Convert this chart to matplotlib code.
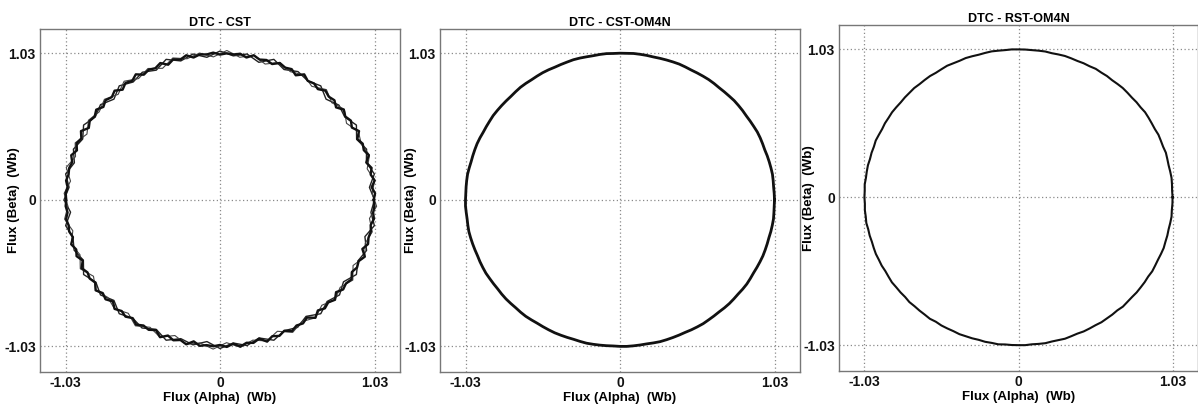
import numpy as np
import matplotlib
matplotlib.use("Agg")
import matplotlib.pyplot as plt

plt.rcParams['font.family'] = ['Liberation Sans', 'DejaVu Sans']
plt.rcParams['font.weight'] = 'bold'

titles = ["DTC - CST", "DTC - CST-OM4N", "DTC - RST-OM4N"]
tick_values = [-1.03, 0, 1.03]
tick_labels = ["-1.03", "0", "1.03"]
xlabel = "Flux (Alpha)  (Wb)"
ylabel = "Flux (Beta)  (Wb)"

# sampling angles (degrees) of the flux trajectory
angle_a = [0, 5, 10, 15, 20, 25, 30, 35, 40, 45, 50, 55, 60, 65, 70, 75, 80, 85,
           90, 95, 100, 105, 110, 115, 120, 125, 130, 135, 140, 145, 150, 155, 160, 165, 170, 175,
           180, 185, 190, 195, 200, 205, 210, 215, 220, 225, 230, 235, 240, 245, 250, 255, 260, 265,
           270, 275, 280, 285, 290, 295, 300, 305, 310, 315, 320, 325, 330, 335, 340, 345, 350, 355, 360]
angle_b = [2.5, 7.5, 12.5, 17.5, 22.5, 27.5, 32.5, 37.5, 42.5, 47.5, 52.5, 57.5, 62.5, 67.5, 72.5, 77.5, 82.5, 87.5,
           92.5, 97.5, 102.5, 107.5, 112.5, 117.5, 122.5, 127.5, 132.5, 137.5, 142.5, 147.5, 152.5, 157.5, 162.5, 167.5, 172.5, 177.5,
           182.5, 187.5, 192.5, 197.5, 202.5, 207.5, 212.5, 217.5, 222.5, 227.5, 232.5, 237.5, 242.5, 247.5, 252.5, 257.5, 262.5, 267.5,
           272.5, 277.5, 282.5, 287.5, 292.5, 297.5, 302.5, 307.5, 312.5, 317.5, 322.5, 327.5, 332.5, 337.5, 342.5, 347.5, 352.5, 357.5, 362.5]
angle_c = [0, 2.5, 5, 7.5, 10, 12.5, 15, 17.5, 20, 22.5, 25, 27.5, 30, 32.5, 35, 37.5, 40, 42.5,
           45, 47.5, 50, 52.5, 55, 57.5, 60, 62.5, 65, 67.5, 70, 72.5, 75, 77.5, 80, 82.5, 85, 87.5,
           90, 92.5, 95, 97.5, 100, 102.5, 105, 107.5, 110, 112.5, 115, 117.5, 120, 122.5, 125, 127.5, 130, 132.5,
           135, 137.5, 140, 142.5, 145, 147.5, 150, 152.5, 155, 157.5, 160, 162.5, 165, 167.5, 170, 172.5, 175, 177.5,
           180, 182.5, 185, 187.5, 190, 192.5, 195, 197.5, 200, 202.5, 205, 207.5, 210, 212.5, 215, 217.5, 220, 222.5,
           225, 227.5, 230, 232.5, 235, 237.5, 240, 242.5, 245, 247.5, 250, 252.5, 255, 257.5, 260, 262.5, 265, 267.5,
           270, 272.5, 275, 277.5, 280, 282.5, 285, 287.5, 290, 292.5, 295, 297.5, 300, 302.5, 305, 307.5, 310, 312.5,
           315, 317.5, 320, 322.5, 325, 327.5, 330, 332.5, 335, 337.5, 340, 342.5, 345, 347.5, 350, 352.5, 355, 357.5,
           360]

# DTC - CST : flux magnitude (Wb), three laps with strong ripple
cst_r_a = [1.03, 1.00, 1.045, 1.01, 1.04, 1.005, 1.05, 1.015, 1.035, 1.00, 1.045, 1.02, 1.04, 1.01, 1.05, 1.00, 1.04, 1.015,
           1.045, 1.005, 1.04, 1.01, 1.05, 1.005, 1.035, 1.01, 1.045, 1.00, 1.04, 1.015, 1.05, 1.01, 1.04, 1.005, 1.045, 1.01,
           1.04, 1.00, 1.045, 1.015, 1.035, 1.005, 1.05, 1.01, 1.04, 1.00, 1.045, 1.015, 1.04, 1.005, 1.05, 1.01, 1.035, 1.00,
           1.045, 1.01, 1.04, 1.005, 1.05, 1.015, 1.035, 1.00, 1.045, 1.01, 1.04, 1.005, 1.05, 1.015, 1.04, 1.00, 1.045, 1.01, 1.03]
cst_r_b = [1.015, 1.04, 1.005, 1.045, 1.02, 1.04, 1.00, 1.045, 1.01, 1.05, 1.005, 1.04, 1.015, 1.045, 1.00, 1.04, 1.01, 1.05,
           1.005, 1.04, 1.015, 1.045, 1.00, 1.04, 1.01, 1.05, 1.005, 1.045, 1.015, 1.04, 1.00, 1.045, 1.01, 1.05, 1.005, 1.04,
           1.015, 1.045, 1.005, 1.04, 1.01, 1.05, 1.00, 1.045, 1.015, 1.04, 1.005, 1.05, 1.01, 1.045, 1.00, 1.04, 1.015, 1.05,
           1.005, 1.045, 1.01, 1.04, 1.00, 1.05, 1.015, 1.045, 1.005, 1.04, 1.01, 1.05, 1.00, 1.045, 1.015, 1.04, 1.005, 1.045, 1.015]
cst_r_c = [1.025, 1.035, 1.015, 1.04, 1.02, 1.035, 1.01, 1.04, 1.02, 1.03, 1.01, 1.045, 1.015, 1.035, 1.02, 1.04, 1.01, 1.035,
           1.025, 1.04, 1.015, 1.03, 1.02, 1.045, 1.01, 1.035, 1.025, 1.04, 1.015, 1.03, 1.02, 1.04, 1.015, 1.035, 1.025, 1.03,
           1.02, 1.035, 1.025, 1.03, 1.015, 1.04, 1.02, 1.035, 1.01, 1.04, 1.02, 1.03, 1.015, 1.045, 1.02, 1.035, 1.01, 1.04,
           1.02, 1.035, 1.015, 1.04, 1.02, 1.03, 1.01, 1.045, 1.02, 1.035, 1.015, 1.04, 1.02, 1.03, 1.025, 1.035, 1.02, 1.03,
           1.025, 1.03, 1.02, 1.035, 1.025, 1.03, 1.015, 1.04, 1.02, 1.035, 1.01, 1.04, 1.02, 1.03, 1.015, 1.045, 1.02, 1.035,
           1.01, 1.04, 1.02, 1.035, 1.015, 1.04, 1.02, 1.03, 1.01, 1.045, 1.015, 1.035, 1.02, 1.04, 1.01, 1.035, 1.025, 1.03,
           1.02, 1.035, 1.015, 1.04, 1.02, 1.03, 1.01, 1.045, 1.02, 1.035, 1.015, 1.04, 1.02, 1.03, 1.01, 1.045, 1.015, 1.035,
           1.02, 1.04, 1.01, 1.035, 1.025, 1.04, 1.015, 1.03, 1.02, 1.045, 1.01, 1.035, 1.025, 1.03, 1.02, 1.035, 1.025, 1.03,
           1.025]

# DTC - CST-OM4N : smooth trajectory
om4n_r = [1.03, 1.029, 1.028, 1.03, 1.032, 1.031, 1.03, 1.029, 1.027, 1.029, 1.031, 1.032, 1.03, 1.029, 1.028, 1.03, 1.031, 1.032,
          1.03, 1.029, 1.028, 1.03, 1.031, 1.03, 1.029, 1.028, 1.03, 1.032, 1.031, 1.03, 1.029, 1.028, 1.03, 1.031, 1.032, 1.03,
          1.03, 1.029, 1.031, 1.03, 1.028, 1.029, 1.031, 1.032, 1.03, 1.029, 1.028, 1.03, 1.031, 1.03, 1.029, 1.031, 1.032, 1.03,
          1.028, 1.029, 1.03, 1.031, 1.032, 1.03, 1.029, 1.028, 1.03, 1.031, 1.03, 1.029, 1.028, 1.03, 1.032, 1.031, 1.03, 1.029,
          1.03, 1.031, 1.029, 1.028, 1.03, 1.032, 1.031, 1.03, 1.029, 1.028, 1.03, 1.031, 1.032, 1.03, 1.029, 1.028, 1.03, 1.031,
          1.03, 1.029, 1.031, 1.032, 1.03, 1.028, 1.029, 1.03, 1.031, 1.03, 1.029, 1.028, 1.03, 1.032, 1.031, 1.03, 1.029, 1.028,
          1.03, 1.031, 1.03, 1.029, 1.028, 1.03, 1.032, 1.031, 1.03, 1.029, 1.028, 1.03, 1.031, 1.032, 1.03, 1.029, 1.028, 1.03,
          1.031, 1.03, 1.029, 1.031, 1.032, 1.03, 1.028, 1.029, 1.03, 1.031, 1.03, 1.029, 1.028, 1.03, 1.031, 1.032, 1.03, 1.029,
          1.03]

# DTC - RST-OM4N : smooth trajectory with small bumps
rst_r = [1.03, 1.028, 1.03, 1.032, 1.03, 1.028, 1.03, 1.033, 1.029, 1.03, 1.032, 1.028, 1.029, 1.031, 1.033, 1.029, 1.03, 1.028,
         1.03, 1.032, 1.03, 1.028, 1.031, 1.03, 1.033, 1.029, 1.03, 1.028, 1.03, 1.032, 1.03, 1.028, 1.031, 1.03, 1.029, 1.03,
         1.03, 1.031, 1.029, 1.03, 1.032, 1.03, 1.028, 1.03, 1.032, 1.029, 1.03, 1.033, 1.03, 1.028, 1.031, 1.03, 1.029, 1.032,
         1.03, 1.03, 1.028, 1.03, 1.032, 1.03, 1.031, 1.028, 1.03, 1.033, 1.029, 1.03, 1.028, 1.031, 1.03, 1.029, 1.032, 1.029,
         1.03, 1.028, 1.031, 1.03, 1.033, 1.029, 1.03, 1.028, 1.03, 1.032, 1.03, 1.031, 1.028, 1.03, 1.033, 1.03, 1.03, 1.028,
         1.032, 1.029, 1.03, 1.03, 1.033, 1.028, 1.031, 1.03, 1.029, 1.032, 1.03, 1.03, 1.028, 1.031, 1.03, 1.033, 1.029, 1.03,
         1.03, 1.031, 1.028, 1.03, 1.032, 1.029, 1.03, 1.033, 1.03, 1.028, 1.031, 1.03, 1.029, 1.032, 1.03, 1.03, 1.028, 1.033,
         1.03, 1.029, 1.031, 1.03, 1.03, 1.028, 1.032, 1.03, 1.029, 1.031, 1.033, 1.03, 1.03, 1.028, 1.03, 1.032, 1.029, 1.03,
         1.03]


def to_xy(angles, radii):
    a = np.deg2rad(np.asarray(angles, dtype=float))
    r = np.asarray(radii, dtype=float)
    return r * np.cos(a), r * np.sin(a)


W, H = 1198, 407
fig = plt.figure(figsize=(W / 100, H / 100), dpi=100)

rects = [(40, 29, 400, 372), (440, 29, 800, 372), (839, 25, 1198, 371)]
ylabel_px = [20, 417, 815]
axes = []
for (l, t, r, b) in rects:
    ax = fig.add_axes([l / W, (H - b) / H, (r - l) / W, (b - t) / H])
    axes.append(ax)

for i, ax in enumerate(axes):
    l, t, r, b = rects[i]
    ax.set_xlim(-1.2, 1.2)
    ax.set_ylim(-1.21, 1.2)
    ax.set_xticks(tick_values)
    ax.set_xticklabels(tick_labels)
    ax.set_yticks(tick_values)
    ax.set_yticklabels(tick_labels)
    ax.tick_params(length=0, labelsize=10, pad=3, colors='#111111')
    for lab in ax.get_xticklabels() + ax.get_yticklabels():
        lab.set_fontweight('bold')
    ax.grid(True, linestyle=(0, (1, 2)), color='#8a8a8a', linewidth=0.9)
    ax.set_axisbelow(True)
    for s in ax.spines.values():
        s.set_color('#777777')
        s.set_linewidth(1.0)
    ax.set_title(titles[i], fontsize=9, fontweight='bold', pad=2)
    ax.set_xlabel(xlabel, fontsize=9.5, fontweight='bold', labelpad=1)
    ax.set_ylabel(ylabel, fontsize=9.6, fontweight='bold')
    ax.yaxis.set_label_coords((ylabel_px[i] - l) / (r - l), 0.5)

x, y = to_xy(angle_a, cst_r_a)
axes[0].plot(x, y, color='#222222', linewidth=1.0)
x, y = to_xy(angle_b, cst_r_b)
axes[0].plot(x, y, color='#444444', linewidth=0.8)
x, y = to_xy(angle_c, cst_r_c)
axes[0].plot(x, y, color='#111111', linewidth=1.7)

x, y = to_xy(angle_c, om4n_r)
axes[1].plot(x, y, color='#111111', linewidth=2.0)

x, y = to_xy(angle_c, rst_r)
axes[2].plot(x, y, color='#111111', linewidth=1.5)

fig.savefig("out.png", dpi=100)
